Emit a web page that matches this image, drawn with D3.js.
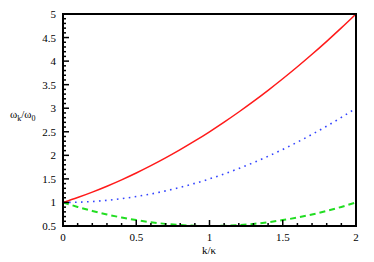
<!DOCTYPE html>
<html><head><meta charset="utf-8">
<script src="https://cdn.jsdelivr.net/npm/d3@7"></script>
<style>body{margin:0;background:#fff}svg{display:block}text{font-family:"Liberation Serif","Times New Roman",serif;fill:#000}</style>
</head><body><svg id="c" width="374" height="262"></svg>
<script>
const kValues = [0,0.1,0.2,0.3,0.4,0.5,0.6,0.7,0.8,0.9,1.0,1.1,1.2,1.3,1.4,1.5,1.6,1.7,1.8,1.9,2.0];
const upperBranch = [1,1.105,1.22,1.345,1.48,1.625,1.78,1.945,2.12,2.305,2.5,2.705,2.92,3.145,3.38,3.625,3.88,4.145,4.42,4.705,5];
const middleBranch = [1,1.005,1.02,1.045,1.08,1.125,1.18,1.245,1.32,1.405,1.5,1.605,1.72,1.845,1.98,2.125,2.28,2.445,2.62,2.805,3];
const lowerBranch = [1,0.905,0.82,0.745,0.68,0.625,0.58,0.545,0.52,0.505,0.5,0.505,0.52,0.545,0.58,0.625,0.68,0.745,0.82,0.905,1];
const xTicks = [0,0.5,1,1.5,2];
const yTicks = [0.5,1,1.5,2,2.5,3,3.5,4,4.5,5];

const svg = d3.select("#c");
const L=63,R=356,T=14,B=226;
const x = d3.scaleLinear().domain([0,2]).range([L,R]);
const y = d3.scaleLinear().domain([0.5,5]).range([B,T]);

svg.append("clipPath").attr("id","clip").append("rect").attr("x",L).attr("y",T-1).attr("width",R-L).attr("height",B-T+1);

const line = d3.line().x((d,i)=>x(kValues[i])).y(d=>y(d)).curve(d3.curveMonotoneX);
const g = svg.append("g").attr("clip-path","url(#clip)");
g.append("path").datum(lowerBranch).attr("d",line).attr("fill","none").attr("stroke","#22dd22").attr("stroke-width",2).attr("stroke-dasharray","6,4");
g.append("path").datum(middleBranch).attr("d",line).attr("fill","none").attr("stroke","#3344ff").attr("stroke-width",1.6).attr("stroke-dasharray","1.6,4.4");
g.append("path").datum(upperBranch).attr("d",line).attr("fill","none").attr("stroke","#ff1a1a").attr("stroke-width",1.5);

// frame
svg.append("rect").attr("x",L).attr("y",T).attr("width",R-L).attr("height",B-T).attr("fill","none").attr("stroke","#000").attr("stroke-width",2);

// x ticks
const xMinor = d3.range(0,2.0001,0.1);
svg.append("g").selectAll("line").data(xMinor).join("line")
  .attr("x1",d=>x(d)).attr("x2",d=>x(d)).attr("y1",B).attr("y2",d=>Math.abs(d*2-Math.round(d*2))<1e-6?B-6:B-3)
  .attr("stroke","#000").attr("stroke-width",1.5);
svg.append("g").selectAll("text").data(xTicks).join("text")
  .attr("x",d=>x(d)).attr("y",241).attr("text-anchor","middle").attr("font-size",11).text(d=>d3.format("")(d));

// y ticks
const yMinor = d3.range(0.5,5.0001,0.1);
svg.append("g").selectAll("line").data(yMinor).join("line")
  .attr("y1",d=>y(d)).attr("y2",d=>y(d)).attr("x1",L).attr("x2",d=>Math.abs(d*2-Math.round(d*2))<1e-6?L+6:L+3)
  .attr("stroke","#000").attr("stroke-width",1.5);
svg.append("g").selectAll("text").data(yTicks).join("text")
  .attr("x",56).attr("y",d=>y(d)+4).attr("text-anchor","end").attr("font-size",11).text(d=>d3.format("")(d));

// axis titles
svg.append("text").attr("x",209).attr("y",254).attr("text-anchor","middle").attr("font-size",11).text("k/κ");
const yl = svg.append("text").attr("x",10).attr("y",118).attr("font-size",11);
yl.append("tspan").text("ω");
yl.append("tspan").attr("dy",3).attr("font-size",8).text("k");
yl.append("tspan").attr("dy",-3).text("/ω");
yl.append("tspan").attr("dy",3).attr("font-size",8).text("0");
</script></body></html>
